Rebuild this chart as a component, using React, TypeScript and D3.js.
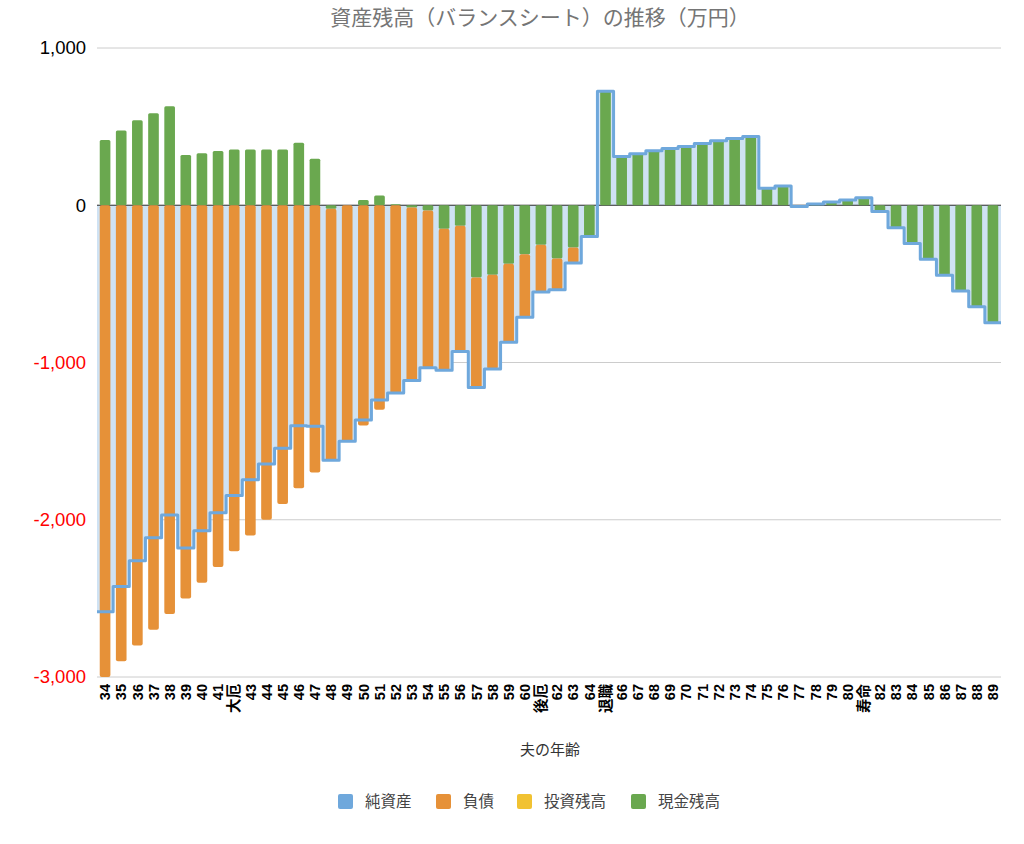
import React from "react";
import * as d3 from "d3";

const ages: string[] = [
  "34","35","36","37","38","39","40","41","大厄","43","44","45","46","47","48","49",
  "50","51","52","53","54","55","56","57","58","59","60","後厄","62","63","64","退職",
  "66","67","68","69","70","71","72","73","74","75","76","77","78","79","80","寿命",
  "82","83","84","85","86","87","88","89",
];

// 現金残高
const cash: number[] = [
  415, 475, 540, 585, 630, 320, 330, 345, 355, 355, 355, 355, 398, 295, -22, 0,
  34, 62, 6, -15, -34, -149, -130, -459, -442, -372, -312, -251, -338, -268, -198, 725,
  310, 327, 346, 361, 374, 392, 410, 425, 437, 108, 122, -8, 8, 20, 33, 48,
  -40, -143, -243, -343, -445, -545, -645, -747,
];

// 負債
const debt: number[] = [
  3000, 2900, 2800, 2700, 2600, 2500, 2400, 2300, 2200, 2100, 2000, 1900, 1800, 1700, 1600, 1500,
  1400, 1300, 1200, 1100, 1000, 900, 800, 700, 600, 500, 400, 300, 200, 100, 0, 0,
  0, 0, 0, 0, 0, 0, 0, 0, 0, 0, 0, 0, 0, 0, 0, 0,
  0, 0, 0, 0, 0, 0, 0, 0,
];

// 投資残高
const invest: number[] = ages.map(() => 0);

// 純資産
const net: number[] = [
  -2585, -2425, -2260, -2115, -1970, -2180, -2070, -1955, -1845, -1745, -1645, -1545, -1402, -1405, -1622, -1500,
  -1366, -1238, -1194, -1115, -1034, -1049, -930, -1159, -1042, -872, -712, -551, -538, -368, -198, 725,
  310, 327, 346, 361, 374, 392, 410, 425, 437, 108, 122, -8, 8, 20, 33, 48,
  -40, -143, -243, -343, -445, -545, -645, -747,
];

const yTicks: number[] = [1000, 0, -1000, -2000, -3000];

const legendItems: { label: string; color: string }[] = [
  { label: "純資産", color: "#6fa8dc" },
  { label: "負債", color: "#e69138" },
  { label: "投資残高", color: "#f1c232" },
  { label: "現金残高", color: "#6aa84f" },
];

const W = 1024;
const H = 844;
const left = 97;
const right = 1001;
const top = 48;
const bottom = 677;

const FONT = "'Liberation Sans', 'Noto Sans CJK JP', sans-serif";
const JFONT = "'Noto Sans CJK JP', sans-serif";

export default function App() {
  const x = d3.scaleBand<string>().domain(ages).range([left, right]).paddingInner(0.34).paddingOuter(0.17);
  const y = d3.scaleLinear().domain([-3000, 1000]).range([bottom, top]);
  const step = x.step();
  const bw = x.bandwidth();

  const pts: [number, number][] = net.map((v, i) => [left + i * step, v]);
  pts.push([left + ages.length * step, net[net.length - 1]]);
  const area = d3
    .area<[number, number]>()
    .x((d) => d[0])
    .y0(y(0))
    .y1((d) => y(d[1]))
    .curve(d3.curveStepAfter);
  const line = d3
    .line<[number, number]>()
    .x((d) => d[0])
    .y((d) => y(d[1]))
    .curve(d3.curveStepAfter);

  const fmt = (v: number) => d3.format(",")(v).replace("\u2212", "-");

  const bars: JSX.Element[] = [];
  ages.forEach((a, i) => {
    const x0 = x(a)!;
    const c = cash[i];
    if (c !== 0) {
      const y1 = Math.min(y(0), y(c));
      const h = Math.abs(y(c) - y(0));
      bars.push(<rect key={"c" + i} x={x0} y={y1} width={bw} height={h} fill="#6aa84f" rx={1.5} />);
    }
    const inv = invest[i];
    if (inv !== 0) {
      const base = Math.max(c, 0);
      bars.push(
        <rect key={"v" + i} x={x0} y={y(base + inv)} width={bw} height={y(base) - y(base + inv)} fill="#f1c232" />
      );
    }
    const dv = debt[i];
    if (dv !== 0) {
      const start = Math.min(c, 0);
      const end = start - dv;
      bars.push(
        <rect key={"d" + i} x={x0} y={y(start)} width={bw} height={y(end) - y(start)} fill="#e69138" rx={2} />
      );
    }
  });

  const legendX = [338, 436, 517, 631];
  const legendTextX = [365, 463, 544, 658];

  return (
    <svg
      width={W}
      height={H}
      style={{ position: "absolute", left: 0, top: 0, background: "#fff" }}
      xmlns="http://www.w3.org/2000/svg"
    >
      <rect x={0} y={0} width={W} height={H} fill="#fff" />
      <text x={540} y={25} textAnchor="middle" fontFamily={JFONT} fontSize={21} fill="#757575">
        資産残高（バランスシート）の推移（万円）
      </text>

      {yTicks.map((t) => (
        <line key={"g" + t} x1={left} x2={right} y1={y(t)} y2={y(t)} stroke="#cccccc" strokeWidth={1} />
      ))}
      {yTicks.map((t) => (
        <text
          key={"t" + t}
          x={86}
          y={y(t)}
          dy="0.35em"
          textAnchor="end"
          fontFamily={FONT}
          fontSize={18.5}
          fill={t < 0 ? "#ff0000" : "#000000"}
        >
          {fmt(t)}
        </text>
      ))}

      <path d={area(pts) || ""} fill="#cfe2f3" />
      <line x1={left} x2={right} y1={y(0)} y2={y(0)} stroke="#333333" strokeWidth={1} />
      {bars}
      <path d={line(pts) || ""} fill="none" stroke="#6fa8dc" strokeWidth={3} strokeLinejoin="round" />

      {ages.map((a) => {
        const cx = x(a)! + bw / 2;
        const ty = 684;
        return (
          <text
            key={"x" + a}
            transform={`translate(${cx},${ty}) rotate(-90)`}
            dy="0.36em"
            textAnchor="end"
            fontFamily={FONT}
            fontWeight="bold"
            fontSize={14.5}
            fill="#000"
          >
            {a}
          </text>
        );
      })}

      <text x={550} y={755} textAnchor="middle" fontFamily={JFONT} fontSize={15} fill="#333">
        夫の年齢
      </text>

      {legendItems.map((l, i) => (
        <g key={"l" + i}>
          <rect x={legendX[i]} y={794} width={15} height={15} rx={2} fill={l.color} />
          <text x={legendTextX[i]} y={801.5} dy="0.35em" fontFamily={JFONT} fontSize={15.5} fill="#444">
            {l.label}
          </text>
        </g>
      ))}
    </svg>
  );
}
